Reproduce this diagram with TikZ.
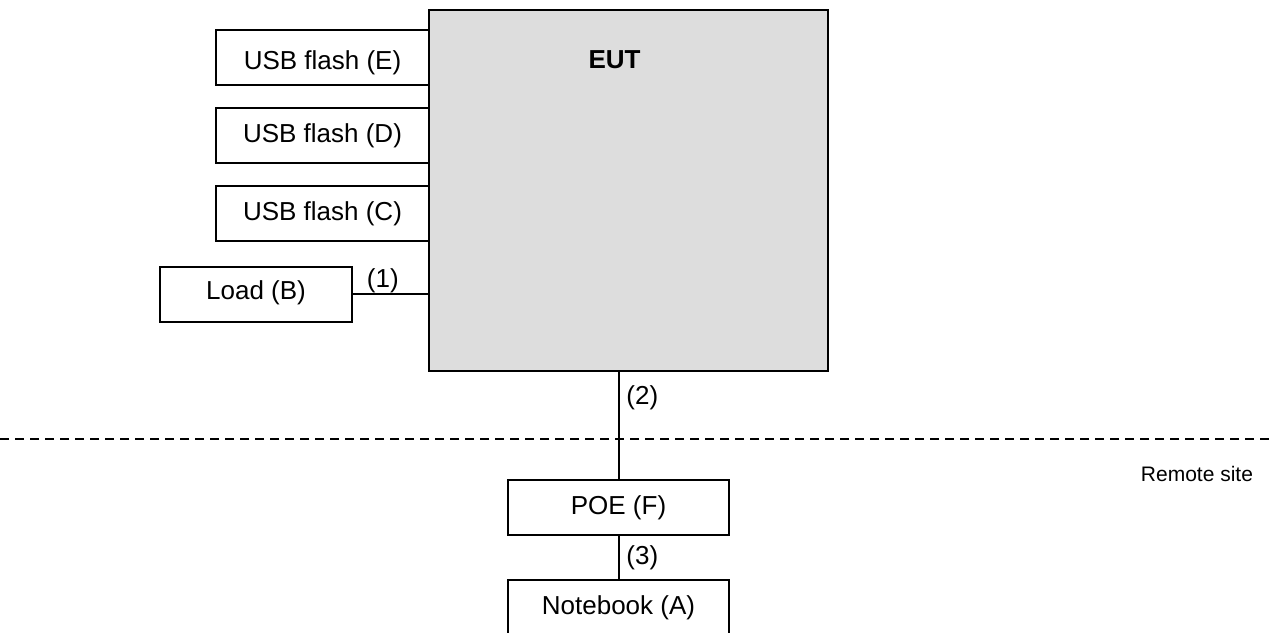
\documentclass[tikz,border=0pt]{standalone}
\usepackage{fontspec}
\setmainfont{Liberation Sans}
\definecolor{eutgray}{RGB}{221,221,221}
\begin{document}
\begin{tikzpicture}[x=0.75pt,y=-0.75pt,
  box/.style={draw=black, line width=1.1pt, fill=white, inner sep=0pt, outer sep=0pt,
    minimum width=#1, minimum height=41.25pt, font=\fontsize{19.5pt}{23pt}\selectfont},
  box/.default=159.75pt,
  lbl/.style={inner sep=0pt, font=\fontsize{19.5pt}{23pt}\selectfont},
  wire/.style={line width=1.1pt}]
\useasboundingbox (0,0) rectangle (1274,632);
\clip (0,0) rectangle (1274,632);
\fill[white] (0,0) rectangle (1274,632);
% EUT
\node[draw=black, line width=1.1pt, fill=eutgray, inner sep=0pt, outer sep=0pt,
  minimum width=299.25pt, minimum height=270.75pt] (eut) at (628.5,190.5) {};
\node[lbl, font=\fontsize{19.5pt}{23pt}\selectfont\bfseries, anchor=base] (eutlbl) at (614.5,68) {EUT};
% left boxes
\node[box, text height=22.5pt, text depth=4.1pt] (usbE) at (322.5,57.5) {USB flash (E)};
\node[box] (usbD) at (322.5,135.5) {USB flash (D)};
\node[box] (usbC) at (322.5,213.5) {USB flash (C)};
\node[box=144pt, text height=14.2pt, text depth=7pt] (load) at (256,294.5) {Load (B)};
\draw[wire] ([yshift=0.375pt]load.east) -- ([yshift=0.375pt]load.east -| eut.west)
  node[lbl, pos=0.4, anchor=south] (l1) {(1)};
% bottom boxes
\node[box=165.75pt] (poe) at (618.5,507.5) {POE (F)};
\node[box=165.75pt] (nb) at (618.5,607.5) {Notebook (A)};
\draw[wire] ([xshift=0.375pt]eut.south -| poe.north) -- ([xshift=0.375pt]poe.north)
  node[lbl, pos=0.243, anchor=west, xshift=5pt] (l2) {(2)};
\draw[wire] ([xshift=0.375pt]poe.south) -- ([xshift=0.375pt]nb.north)
  node[lbl, pos=0.5, anchor=west, xshift=5pt] (l3) {(3)};
% dashed border
\coordinate (dashL) at (0,439);
\coordinate (dashR) at (1274,439);
\draw[line width=1.1pt, dash pattern=on 6.75pt off 4.5pt] (dashL) -- (dashR);
\node[lbl, font=\fontsize{15.75pt}{19pt}\selectfont] (remote) at (1197,474) {Remote site};
\end{tikzpicture}
\end{document}
